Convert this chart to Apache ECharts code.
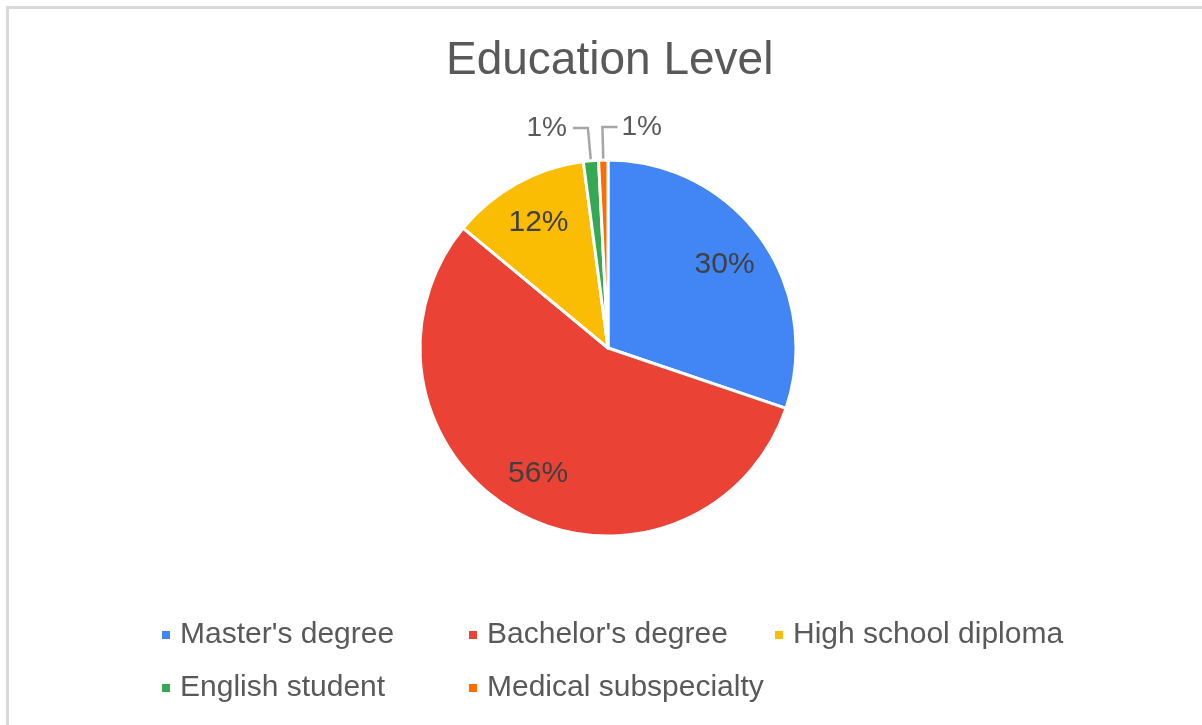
<!DOCTYPE html>
<html>
<head>
<meta charset="utf-8">
<script src="https://cdn.jsdelivr.net/npm/echarts@6/dist/echarts.min.js"></script>
<style>
html,body{margin:0;padding:0;background:#fff;}
#chart{width:1202px;height:725px;}
</style>
</head>
<body>
<div id="chart"></div>
<script>
const titleText = 'Education Level';
const categories = ["Master's degree", "Bachelor's degree", "High school diploma", "English student", "Medical subspecialty"];
const values = [30.2, 55.8, 11.9, 1.3, 0.8];
const colors = ['#4285F4', '#EA4335', '#FBBC04', '#34A853', '#FF6D01'];
const legendCols = [
  ["Master's degree", "English student"],
  ["Bachelor's degree", "Medical subspecialty"],
  ["High school diploma"]
];

const FONT = '"Liberation Sans", Arial, sans-serif';
const CENTER = [608, 348];
const R = 188;

const mainData = categories.map((n, i) => ({
  name: n, value: values[i],
  itemStyle: { color: colors[i] },
  label: { show: i >= 3 },
  labelLine: { show: i >= 3 }
}));
const overlayData = categories.map((n, i) => ({
  name: n, value: values[i],
  label: { show: i < 3 }
}));

const pctFmt = p => Math.round(p.percent) + '%';

const legendLefts = [160, 467, 773];
const legends = legendCols.map((cols, k) => ({
  data: cols,
  orient: 'vertical',
  left: legendLefts[k],
  top: 620,
  padding: 0,
  icon: 'rect',
  itemWidth: 10,
  itemHeight: 10,
  itemGap: 23,
  selectedMode: false,
  textStyle: { fontFamily: FONT, fontSize: 30, color: '#595959', lineHeight: 30, padding: [0, 0, 0, 4] }
}));

const chart = echarts.init(document.getElementById('chart'), null, { renderer: 'canvas' });
chart.setOption({
  backgroundColor: '#fff',
  animation: false,
  color: colors,
  title: {
    text: titleText,
    left: 446,
    top: 38,
    padding: 0,
    textStyle: { fontFamily: FONT, fontSize: 46, fontWeight: 'normal', color: '#595959' }
  },
  graphic: [{
    type: 'rect',
    shape: { x: 7.5, y: 7.5, width: 1400, height: 900 },
    style: { fill: 'none', stroke: '#d9d9d9', lineWidth: 3 },
    silent: true
  }],
  legend: legends,
  series: [
    {
      type: 'pie',
      center: CENTER,
      radius: R,
      startAngle: 90,
      clockwise: true,
      avoidLabelOverlap: false,
      data: mainData,
      itemStyle: { borderColor: '#fff', borderWidth: 3 },
      emphasis: { disabled: true },
      label: {
        position: 'outside',
        formatter: pctFmt,
        fontFamily: FONT, fontSize: 28, color: '#595959',
        distanceToLabelLine: 6,
        padding: [0, 0, 10, 0]
      },
      labelLine: {
        length: 33, length2: 15, smooth: false,
        lineStyle: { color: '#a6a6a6', width: 2.5 }
      },
      labelLayout: function (p) {
        if (p.dataIndex === 4 && p.labelLinePoints) {
          const pts = p.labelLinePoints;
          const p1 = pts[1];
          const len2 = Math.abs(pts[2][0] - p1[0]);
          const p2 = [p1[0] + len2, p1[1]];
          return {
            x: p2[0] + 4,
            y: p2[1],
            align: 'left',
            verticalAlign: 'middle',
            labelLinePoints: [pts[0], p1, p2]
          };
        }
        return {};
      }
    },
    {
      type: 'pie',
      center: CENTER,
      radius: [93, R],
      startAngle: 90,
      clockwise: true,
      silent: true,
      data: overlayData,
      itemStyle: { color: 'rgba(0,0,0,0)', borderWidth: 0 },
      emphasis: { disabled: true },
      labelLine: { show: false },
      label: {
        position: 'inside',
        formatter: pctFmt,
        fontFamily: FONT, fontSize: 30, color: '#404040'
      }
    }
  ]
});
</script>
</body>
</html>
